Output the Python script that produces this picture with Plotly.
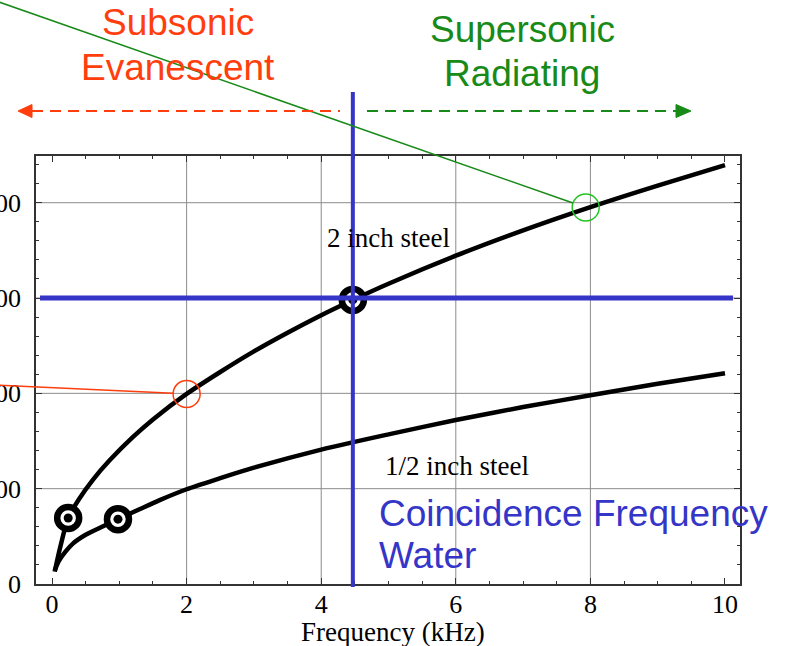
import plotly.graph_objects as go

# Bending-wave speed (m/s) against frequency (kHz) for two steel plates
freq_2in = [0.04, 0.12, 0.24, 0.4, 0.61, 0.86, 1.2, 1.5, 2.0, 2.5, 3.0, 3.5, 4.0,
            4.47, 5.0, 6.0, 7.0, 8.0, 9.0, 10.0]
speed_2in = [65, 190, 346, 445, 548, 650, 770, 863, 997, 1112, 1220, 1318, 1410,
             1490, 1575, 1722, 1855, 1977, 2090, 2197]

freq_half = [0.04, 0.1, 0.2, 0.31, 0.5, 0.76, 0.98, 1.3, 1.6, 2.0, 2.5, 3.0, 4.0,
             5.0, 6.0, 7.0, 8.0, 9.0, 10.0]
speed_half = [70, 120, 170, 212, 258, 303, 340, 392, 440, 497, 555, 610, 705,
              785, 860, 928, 990, 1050, 1105]

# ringed points on the curves
ring_freq = [0.24, 0.98, 4.47]
ring_speed = [346, 340, 1490]

# sound speed in water and the coincidence frequency of the 2 inch plate
water_speed = 1500
coincidence_khz = 4.47

# example points either side of coincidence
sub_pt = (2.0, 997)
super_pt = (7.93, 1975)

x_ticks = [0, 2, 4, 6, 8, 10]
y_ticks = [0, 500, 1000, 1500, 2000]
x_grid = [2, 4, 6, 8]
y_grid = [500, 1000, 1500, 2000]

X_RANGE = [-0.238, 10.223]
Y_RANGE = [0, 2245]

W, H = 786, 646
L, T, R, B = 36, 156, 740, 584

BLUE = "#3535c8"
RED = "#ff3d0d"
GREEN = "#178a17"
SERIF = "Liberation Serif"
SANS = "Liberation Sans"


def to_px(x, y):
    px = L + (x - X_RANGE[0]) / (X_RANGE[1] - X_RANGE[0]) * (R - L)
    py = B - (y - Y_RANGE[0]) / (Y_RANGE[1] - Y_RANGE[0]) * (B - T)
    return px, py


def paper(px, py):
    return (px - L) / (R - L), (B - py) / (B - T)


fig = go.Figure()

fig.add_trace(go.Scatter(x=freq_2in, y=speed_2in, mode="lines",
                         line=dict(color="black", width=4.5, shape="spline", smoothing=0.8),
                         hoverinfo="skip"))
fig.add_trace(go.Scatter(x=freq_half, y=speed_half, mode="lines",
                         line=dict(color="black", width=4.5, shape="spline", smoothing=0.8),
                         hoverinfo="skip"))

# bullseye rings
fig.add_trace(go.Scatter(x=ring_freq, y=ring_speed, mode="markers",
                         marker=dict(symbol="circle", size=22, color="white",
                                     line=dict(color="black", width=6.5)),
                         hoverinfo="skip"))
fig.add_trace(go.Scatter(x=ring_freq, y=ring_speed, mode="markers",
                         marker=dict(symbol="circle", size=9, color="black"),
                         hoverinfo="skip"))

# open circles on the subsonic / supersonic examples
fig.add_trace(go.Scatter(x=[sub_pt[0]], y=[sub_pt[1]], mode="markers",
                         marker=dict(symbol="circle-open", size=27, color=RED,
                                     line=dict(color=RED, width=1.5)),
                         hoverinfo="skip"))
fig.add_trace(go.Scatter(x=[super_pt[0]], y=[super_pt[1]], mode="markers",
                         marker=dict(symbol="circle-open", size=27, color="#22c422",
                                     line=dict(color="#22c422", width=1.5)),
                         hoverinfo="skip"))

shapes = []
# grid
for gx in x_grid:
    shapes.append(dict(type="line", xref="x", yref="paper", x0=gx, x1=gx, y0=0, y1=1,
                       line=dict(color="#8c8c8c", width=1), layer="below"))
for gy in y_grid:
    shapes.append(dict(type="line", xref="paper", yref="y", x0=0, x1=1, y0=gy, y1=gy,
                       line=dict(color="#8c8c8c", width=1), layer="below"))

# coincidence cross-hair
_, vy0 = paper(0, 587)
_, vy1 = paper(0, 92)
shapes.append(dict(type="line", xref="x", yref="paper", x0=coincidence_khz,
                   x1=coincidence_khz, y0=vy0, y1=vy1,
                   line=dict(color=BLUE, width=4)))
hx0, _ = paper(40, 0)
hx1, _ = paper(733, 0)
shapes.append(dict(type="line", xref="paper", yref="y", x0=hx0, x1=hx1,
                   y0=water_speed, y1=water_speed, line=dict(color=BLUE, width=5)))


# leader lines from the regime labels to the example points
def leader(tail_px, point, color, radius=13.5):
    hx, hy = to_px(*point)
    tx, ty = tail_px
    dx, dy = hx - tx, hy - ty
    d = (dx * dx + dy * dy) ** 0.5
    ex, ey = hx - dx / d * radius, hy - dy / d * radius
    p0 = paper(tx, ty)
    p1 = paper(ex, ey)
    return dict(type="line", xref="paper", yref="paper", x0=p0[0], y0=p0[1],
                x1=p1[0], y1=p1[1], line=dict(color=color, width=1.5))


shapes.append(leader((-4, 385), sub_pt, RED))
shapes.append(leader((-4, 1), super_pt, GREEN))


# dashed regime arrows
def dashed_arrow(x_start, x_end, tip, y, color):
    a = paper(x_start, y)
    b = paper(x_end, y)
    shapes.append(dict(type="line", xref="paper", yref="paper", x0=a[0], y0=a[1],
                       x1=b[0], y1=b[1], line=dict(color=color, width=2, dash="11px,7px")))
    base = x_start if tip < x_start else x_end
    p_tip = paper(tip, y)
    p_b1 = paper(base, y - 6.5)
    p_b2 = paper(base, y + 6.5)
    path = "M {} {} L {} {} L {} {} Z".format(p_tip[0], p_tip[1], p_b1[0], p_b1[1],
                                            p_b2[0], p_b2[1])
    shapes.append(dict(type="path", xref="paper", yref="paper", path=path,
                       fillcolor=color, line=dict(color=color, width=1)))


dashed_arrow(32, 340, 18, 111, RED)
dashed_arrow(367, 676, 691, 111, GREEN)

annotations = []


def label(text, px, py, color, family, size, xanchor="center"):
    ax, ay = paper(px, py)
    annotations.append(dict(text=text, x=ax, y=ay, xref="paper", yref="paper",
                            xanchor=xanchor, yanchor="middle", showarrow=False,
                            font=dict(color=color, family=family, size=size)))


label("Subsonic", 178, 22, RED, SANS, 37)
label("Evanescent", 178, 67, RED, SANS, 37)
label("Supersonic", 522, 29, GREEN, SANS, 37)
label("Radiating", 522, 73, GREEN, SANS, 37)
label("Coincidence Frequency", 377, 513, BLUE, SANS, 37, xanchor="left")
label("Water", 377, 555, BLUE, SANS, 37, xanchor="left")
label("2 inch steel", 388, 238, "black", SERIF, 27)
label("1/2 inch steel", 457, 466, "black", SERIF, 27)
label("Frequency (kHz)", 393, 632, "black", SERIF, 27)

axis_common = dict(showgrid=False, zeroline=False, showline=True, linecolor="#333333",
                   linewidth=1.5, mirror="allticks", ticks="inside", ticklen=6,
                   tickcolor="#333333", tickwidth=1,
                   tickfont=dict(family=SERIF, size=26, color="black"),
                   automargin=False)

fig.update_layout(
    width=W, height=H,
    margin=dict(l=L, r=W - R, t=T, b=H - B, pad=0),
    paper_bgcolor="white", plot_bgcolor="white",
    showlegend=False,
    xaxis=dict(range=X_RANGE, tickmode="array", tickvals=x_ticks,
               ticktext=[str(v) for v in x_ticks], ticklabelstandoff=-4,
               minor=dict(tickmode="linear", tick0=0, dtick=0.5, ticks="inside",
                          ticklen=3, tickcolor="#333333", showgrid=False),
               **axis_common),
    yaxis=dict(range=Y_RANGE, tickmode="array", tickvals=y_ticks,
               ticktext=[str(v) for v in y_ticks], ticklabelstandoff=8,
               minor=dict(tickmode="linear", tick0=0, dtick=100, ticks="inside",
                          ticklen=3, tickcolor="#333333", showgrid=False),
               **axis_common),
    shapes=shapes,
    annotations=annotations,
)

fig.write_html("out.html")
